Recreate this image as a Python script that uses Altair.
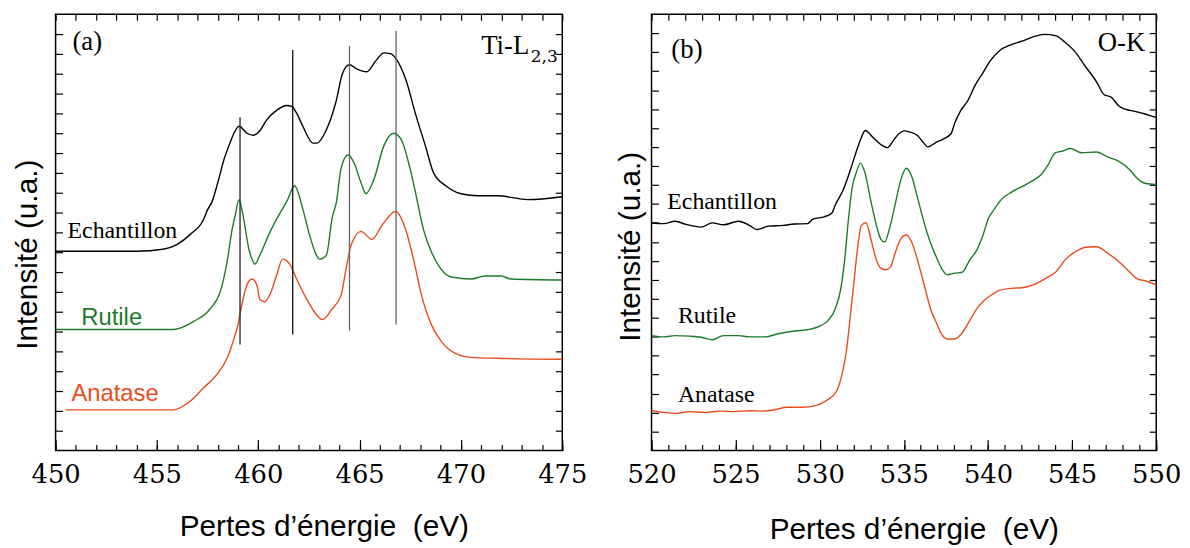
import altair as alt
import pandas as pd

SERIF = "Liberation Serif"
NUMF = "DejaVu Serif"
SANS = "Liberation Sans"

# ---------------- Panel (a) : Ti-L2,3 ----------------
echL_E = [450, 452, 454, 455.3, 456.0, 456.65, 457.3, 457.5, 457.7, 458.0,
          458.3, 458.6, 458.85, 459.05, 459.45, 459.75, 460.1, 460.4, 460.9, 461.4,
          461.65, 461.9, 462.2, 462.7, 462.9, 463.35, 463.85, 464.15, 464.5, 464.85,
          465.35, 465.8, 466.2, 466.55, 466.8, 467.3, 467.75, 468.25, 468.65, 469.25,
          470.0, 470.85, 471.8, 473.3, 475]
echL_I = [10.05, 10.05, 10.05, 10.15, 10.4, 10.9, 11.65, 12.15, 12.5, 13.5,
          14.65, 15.5, 16.1, 16.35, 16.0, 15.9, 16.15, 16.65, 17.15, 17.4,
          17.35, 17.0, 16.35, 15.5, 15.5, 16.15, 17.65, 19.0, 19.45, 19.25,
          19.1, 19.65, 20.05, 20.0, 19.75, 18.65, 17.0, 15.35, 14.0, 13.35,
          12.95, 12.85, 12.85, 12.65, 12.8]

rutL_E = [450, 455.8, 456.8, 457.63, 458.12, 458.46, 458.71, 458.86, 459.05, 459.25,
          459.54, 459.69, 459.83, 460.08, 460.57, 461.06, 461.45, 461.79, 462.18, 462.52,
          462.87, 463.01, 463.36, 463.65, 463.85, 464.09, 464.43, 464.73, 465.07, 465.31,
          465.7, 466.19, 466.68, 467.07, 467.42, 467.76, 468.15, 468.49, 468.88, 469.52,
          470.5, 471.18, 471.97, 472.46, 475]
rutL_I = [6.1, 6.1, 6.5, 7.15, 8.0, 9.5, 11.15, 11.85, 12.65, 11.85,
          10.15, 9.65, 9.4, 9.85, 11.0, 11.95, 12.65, 13.35, 12.25, 10.9,
          9.85, 9.65, 9.85, 11.75, 12.5, 14.25, 14.9, 14.5, 13.5, 12.95,
          13.65, 15.35, 16.0, 15.65, 14.5, 13.0, 11.15, 10.15, 9.35, 8.75,
          8.65, 8.8, 8.8, 8.65, 8.6]

anaL_E = [450.5, 455.8, 456.65, 457.29, 457.97, 458.46, 458.76, 459.0, 459.25, 459.44,
          459.69, 459.93, 460.08, 460.32, 460.57, 460.91, 461.2, 461.55, 461.89, 462.38,
          462.87, 463.16, 463.65, 464.09, 464.33, 464.58, 465.07, 465.61, 466.1, 466.78,
          467.27, 467.66, 468.05, 468.54, 469.03, 469.72, 470.5, 471.82, 475]
anaL_I = [2.05, 2.05, 2.5, 3.15, 3.85, 4.65, 5.5, 6.35, 7.65, 8.35,
          8.65, 8.35, 7.6, 7.5, 7.85, 8.85, 9.65, 9.4, 8.65, 7.65,
          6.85, 6.6, 7.15, 7.85, 9.15, 10.35, 11.05, 10.65, 11.35, 12.05,
          11.15, 9.65, 7.85, 6.35, 5.5, 4.9, 4.7, 4.65, 4.6]

# vertical marker lines (a)
vl_E = [459.1, 461.7, 464.5, 466.8]
vl_top = [16.8, 20.2, 20.4, 21.15]
vl_bot = [5.35, 5.85, 6.05, 6.35]
vl_col = ["#222222", "#111111", "#666666", "#666666"]

# labels (a)
a_serif_txt = ["Echantillon", "(a)", "Ti-L"]
a_serif_E = [450.59, 450.83, 471.0]
a_serif_I = [10.7, 20.2, 20.0]
a_serif_size = [24, 27, 27]
a_sub_txt = ["2,3"]
a_sub_E = [473.45]
a_sub_I = [19.6]
a_sans_txt = ["Rutile", "Anatase"]
a_sans_E = [451.27, 450.78]
a_sans_I = [6.35, 2.5]
a_sans_col = ["#1e7b2a", "#e84c1c"]

# ---------------- Panel (b) : O-K ----------------
echR_E = [520.0, 520.73, 521.4, 522.06, 522.95, 523.61, 524.28, 525.17, 525.83, 526.27,
          526.94, 527.83, 528.49, 529.27, 529.6, 530.26, 530.71, 530.93, 531.37, 531.82,
          532.15, 532.48, 532.7, 533.15, 533.59, 534.03, 534.37, 534.7, 535.03, 535.36,
          535.81, 536.14, 536.43, 536.92, 537.36, 537.8, 538.02, 538.36, 538.8, 539.24,
          539.69, 540.13, 540.68, 541.35, 542.01, 542.68, 543.35, 544.01, 544.56, 545.12,
          545.78, 546.45, 546.89, 547.34, 547.78, 548.22, 548.67, 549.33, 549.77, 550.0]
echR_I = [12.01, 11.96, 12.09, 11.92, 11.78, 12.0, 11.9, 12.09, 11.87, 11.65,
          11.83, 11.87, 11.94, 11.96, 12.2, 12.32, 12.51, 12.96, 13.69, 14.79,
          15.7, 16.52, 16.87, 16.52, 16.16, 15.97, 16.34, 16.7, 16.85, 16.79,
          16.61, 16.25, 16.01, 16.25, 16.43, 16.7, 17.25, 17.89, 18.44, 19.26,
          19.9, 20.54, 21.08, 21.39, 21.58, 21.81, 21.94, 21.87, 21.54, 21.08,
          20.26, 19.44, 18.77, 18.62, 18.16, 17.98, 17.89, 17.74, 17.62, 17.56]

rutR_E = [520.0, 520.73, 521.4, 522.28, 522.95, 523.61, 524.28, 525.17, 525.83, 526.72,
          527.6, 528.49, 529.38, 530.04, 530.49, 530.93, 531.26, 531.48, 531.71, 531.93,
          532.15, 532.42, 532.7, 533.04, 533.37, 533.63, 533.86, 534.14, 534.48, 534.81,
          535.14, 535.48, 535.81, 536.25, 536.58, 536.92, 537.25, 537.58, 538.02, 538.47,
          538.91, 539.35, 539.69, 540.02, 540.35, 540.8, 541.35, 542.01, 542.68, 543.12,
          543.57, 544.01, 544.45, 544.9, 545.56, 546.45, 547.11, 547.78, 548.44, 548.89,
          549.33, 550.0]
rutR_I = [6.06, 5.99, 6.06, 6.03, 5.97, 5.84, 6.06, 6.06, 5.99, 5.99,
          6.17, 6.3, 6.39, 6.57, 6.85, 7.49, 8.58, 10.04, 12.23, 13.87,
          14.6, 15.15, 14.6, 13.14, 11.87, 11.14, 10.99, 11.68, 12.96, 14.24,
          14.88, 14.42, 13.33, 11.87, 10.95, 10.22, 9.59, 9.27, 9.35, 9.4,
          10.04, 10.59, 11.32, 12.23, 12.69, 13.24, 13.6, 13.91, 14.24, 14.51,
          15.06, 15.7, 15.79, 15.92, 15.7, 15.74, 15.48, 15.24, 14.79, 14.33,
          14.09, 14.02]

anaR_E = [520.0, 520.73, 521.4, 522.28, 523.17, 524.06, 524.94, 525.83, 526.72, 527.38,
          528.05, 528.93, 529.82, 530.26, 530.71, 531.04, 531.37, 531.59, 531.82, 532.04,
          532.26, 532.48, 532.75, 533.04, 533.37, 533.59, 533.92, 534.21, 534.48, 534.81,
          535.14, 535.48, 535.81, 536.25, 536.58, 536.92, 537.25, 537.58, 538.02, 538.47,
          538.91, 539.35, 539.8, 540.24, 540.68, 541.35, 542.01, 542.68, 543.35, 544.01,
          544.67, 545.34, 545.78, 546.45, 547.11, 547.78, 548.44, 548.89, 549.33, 550.0]
anaR_I = [2.1, 2.01, 1.96, 2.05, 2.01, 2.08, 2.05, 2.1, 2.08, 2.16,
          2.28, 2.28, 2.38, 2.56, 2.83, 3.2, 4.2, 5.3, 7.12, 8.95,
          10.77, 11.87, 12.01, 11.14, 10.04, 9.64, 9.53, 9.68, 10.41, 11.14,
          11.36, 10.95, 10.04, 8.58, 7.49, 6.76, 6.12, 5.88, 5.88, 6.21,
          6.85, 7.49, 7.94, 8.22, 8.44, 8.55, 8.58, 8.73, 9.04, 9.4,
          10.13, 10.55, 10.72, 10.74, 10.41, 9.95, 9.4, 9.04, 8.95, 8.73]

b_lab_txt = ["Echantillon", "Rutile", "Anatase"]
b_lab_E = [520.94, 521.57, 521.57]
b_lab_I = [12.75, 6.74, 2.56]
b_pan_txt = ["(b)", "O-K"]
b_pan_E = [521.18, 549.35]
b_pan_I = [20.7, 21.07]

series_names = ["Echantillon", "Rutile", "Anatase"]
colors_a = ["#000000", "#1e7b2a", "#e84c1c"]
colors_b = ["#000000", "#1e7b2a", "#d41f1f"]

XTITLE = "Pertes d\u2019énergie\u00a0 (eV)"
YTITLE = "Intensité (u.a.)"


def lines_df(triples):
    frames = [pd.DataFrame({"E": e, "I": i, "s": n}) for e, i, n in triples]
    return pd.concat(frames, ignore_index=True)


def axes(xdom, ydom, xmajor, xminor, yticks, ytx, yty, xtx, xty):
    xs = alt.Scale(domain=xdom, nice=False, zero=False)
    ys = alt.Scale(domain=ydom, nice=False, zero=False)
    common = dict(domain=False, grid=False, tickColor="black", tickWidth=1.2)
    ax_bottom_major = alt.Axis(orient="bottom", values=xmajor, tickSize=11, offset=-11,
                               labelFont=NUMF, labelFontSize=26, labelColor="black",
                               labelPadding=11, format="d", labelFlush=False,
                               title=XTITLE, titleFont=SANS, titleFontSize=30,
                               titleFontWeight="normal", titleColor="black",
                               titleX=xtx, titleY=xty, titleAlign="center",
                               titleBaseline="alphabetic", titleAnchor="start", **common)
    ax_bottom_minor = alt.Axis(orient="bottom", values=xminor, tickSize=6, offset=-6,
                               labels=False, title=None, **common)
    ax_top = alt.Axis(orient="top", values=xminor, tickSize=6, offset=-6,
                      labels=False, title=None, **common)
    ax_left = alt.Axis(orient="left", values=yticks, tickSize=7, offset=-7, labels=False,
                       title=YTITLE, titleFont=SANS, titleFontSize=30,
                       titleFontWeight="normal", titleColor="black", titleAngle=270,
                       titleX=ytx, titleY=yty, titleAlign="center",
                       titleBaseline="alphabetic", **common)
    ax_right = alt.Axis(orient="right", values=yticks, tickSize=7, offset=-7,
                        labels=False, title=None, **common)
    return xs, ys, ax_bottom_major, ax_bottom_minor, ax_top, ax_left, ax_right


# ---------- panel (a)
xs, ys, axbM, axbm, axt, axl, axr = axes([450, 475], [0, 22], list(range(450, 476, 5)),
                                          list(range(450, 476)), list(range(1, 22)),
                                          -26, 242, 270.5, 97)
dfa = lines_df([(echL_E, echL_I, "Echantillon"), (rutL_E, rutL_I, "Rutile"),
                (anaL_E, anaL_I, "Anatase")])
a_lines = alt.Chart(dfa).mark_line(strokeWidth=1.4, interpolate="monotone").encode(
    x=alt.X("E:Q", scale=xs, axis=axbM),
    y=alt.Y("I:Q", scale=ys, axis=axl),
    color=alt.Color("s:N", scale=alt.Scale(domain=series_names, range=colors_a), legend=None),
)
dfr = pd.DataFrame({"E": vl_E, "t": vl_top, "b": vl_bot, "c": vl_col})
a_rules = alt.Chart(dfr).mark_rule(strokeWidth=1.3).encode(
    x=alt.X("E:Q", scale=xs, axis=axbm),
    y=alt.Y("t:Q", scale=ys, axis=axr),
    y2="b:Q",
    color=alt.Color("c:N", scale=None),
)
dfas = pd.DataFrame({"E": a_serif_E, "I": a_serif_I, "t": a_serif_txt, "z": a_serif_size})
a_serif = alt.Chart(dfas).mark_text(align="left", baseline="alphabetic", font=SERIF,
                                    color="black").encode(
    x=alt.X("E:Q", scale=xs, axis=axt),
    y=alt.Y("I:Q", scale=ys, axis=None),
    text="t:N",
    size=alt.Size("z:Q", scale=None),
)
dfsub = pd.DataFrame({"E": a_sub_E, "I": a_sub_I, "t": a_sub_txt})
a_sub = alt.Chart(dfsub).mark_text(align="left", baseline="alphabetic", font=NUMF,
                                   fontSize=17, color="black").encode(
    x=alt.X("E:Q", scale=xs, axis=None),
    y=alt.Y("I:Q", scale=ys, axis=None),
    text="t:N",
)
dfan = pd.DataFrame({"E": a_sans_E, "I": a_sans_I, "t": a_sans_txt, "c": a_sans_col})
a_sans = alt.Chart(dfan).mark_text(align="left", baseline="alphabetic", font=SANS,
                                   fontSize=24).encode(
    x=alt.X("E:Q", scale=xs, axis=None),
    y=alt.Y("I:Q", scale=ys, axis=None),
    text="t:N",
    color=alt.Color("c:N", scale=None),
)
panel_a = alt.layer(a_lines, a_rules, a_serif, a_sub, a_sans).resolve_axis(
    x="independent", y="independent").properties(width=511, height=440)

# ---------- panel (b)
xs, ys, axbM, axbm, axt, axl, axr = axes([520, 550], [0, 23], list(range(520, 551, 5)),
                                          list(range(520, 551)), list(range(1, 23)),
                                          -19.5, 234, 264.5, 100)
dfb = lines_df([(echR_E, echR_I, "Echantillon"), (rutR_E, rutR_I, "Rutile"),
                (anaR_E, anaR_I, "Anatase")])
b_lines = alt.Chart(dfb).mark_line(strokeWidth=1.4, interpolate="monotone").encode(
    x=alt.X("E:Q", scale=xs, axis=axbM),
    y=alt.Y("I:Q", scale=ys, axis=axl),
    color=alt.Color("s:N", scale=alt.Scale(domain=series_names, range=colors_b), legend=None),
)
dfbl = pd.DataFrame({"E": b_lab_E, "I": b_lab_I, "t": b_lab_txt})
b_labels = alt.Chart(dfbl).mark_text(align="left", baseline="alphabetic", font=SERIF,
                                     fontSize=24, color="black").encode(
    x=alt.X("E:Q", scale=xs, axis=axbm),
    y=alt.Y("I:Q", scale=ys, axis=axr),
    text="t:N",
)
dfbp = pd.DataFrame({"E": b_pan_E, "I": b_pan_I, "t": b_pan_txt})
b_pan1 = alt.Chart(dfbp.iloc[:1]).mark_text(align="left", baseline="alphabetic", font=SERIF,
                                           fontSize=27, color="black").encode(
    x=alt.X("E:Q", scale=xs, axis=axt),
    y=alt.Y("I:Q", scale=ys, axis=None),
    text="t:N",
)
b_pan2 = alt.Chart(dfbp.iloc[1:]).mark_text(align="right", baseline="alphabetic", font=SERIF,
                                           fontSize=27, color="black").encode(
    x=alt.X("E:Q", scale=xs, axis=None),
    y=alt.Y("I:Q", scale=ys, axis=None),
    text="t:N",
)
panel_b = alt.layer(b_lines, b_labels, b_pan1, b_pan2).resolve_axis(
    x="independent", y="independent").properties(width=509, height=440)

chart = alt.hconcat(panel_a, panel_b, spacing=26).properties(
    padding={"left": 4, "top": 2, "right": 0, "bottom": 0},
    background="white",
).configure_view(stroke="black", strokeWidth=1.5)

chart.save("out.html", embed_options={"renderer": "svg", "actions": False})
